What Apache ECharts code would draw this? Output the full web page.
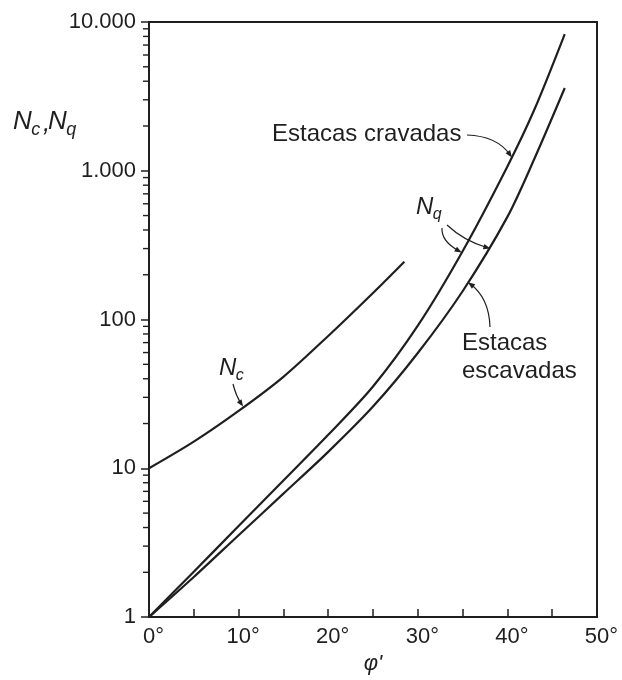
<!DOCTYPE html>
<html>
<head>
<meta charset="utf-8">
<script src="https://cdn.jsdelivr.net/npm/echarts@6/dist/echarts.min.js"></script>
<style>
  html, body { margin: 0; padding: 0; background: #ffffff; }
  #chart { width: 622px; height: 680px; }
</style>
</head>
<body>
<div id="chart"></div>
<script>
// Bearing capacity factors for piles versus friction angle (log scale)
const phiNq = [0, 5, 10, 15, 20, 25, 30, 35, 40, 43, 46.4];
const nqDriven = [1, 2.02, 4.09, 8.28, 16.8, 35.5, 91, 288, 1070, 2570, 8300];  // estacas cravadas
const nqBored = [1, 1.86, 3.55, 6.76, 12.9, 26, 59.6, 155, 490, 1200, 3600];    // estacas escavadas
const phiNc = [0, 5, 10, 15, 20, 25, 28.5];
const nc = [10, 15.1, 24.3, 41.2, 77.6, 151, 245];

const xTickLabels = ['0°', '10°', '20°', '30°', '40°', '50°'];
const yTickLabels = ['1', '10', '100', '1.000', '10.000'];
const yMinorTicks = [2, 3, 4, 5, 6, 7, 8, 9,
                     20, 30, 40, 50, 60, 70, 80, 90,
                     200, 300, 400, 500, 600, 700, 800, 900,
                     2000, 3000, 4000, 5000, 6000, 7000, 8000, 9000];

const INK = '#1f1f1f';
const FONT = '"Liberation Sans", Arial, Helvetica, sans-serif';

const chart = echarts.init(document.getElementById('chart'), null, { renderer: 'canvas' });

function pairs(xs, ys) { return xs.map((x, i) => [x, ys[i]]); }

const curveStyle = { color: INK, width: 2.2 };

chart.setOption({
  animation: false,
  backgroundColor: '#ffffff',
  grid: {
    left: 149, right: 25, top: 22, bottom: 56,
    show: true, borderColor: INK, borderWidth: 2, backgroundColor: 'transparent'
  },
  xAxis: {
    type: 'value', min: 0, max: 50, interval: 10,
    name: "φ'", nameLocation: 'middle', nameGap: 35,
    nameTextStyle: { fontFamily: FONT, fontStyle: 'italic', fontSize: 22, color: INK },
    axisLine: { show: true, lineStyle: { color: INK, width: 2 } },
    axisTick: { show: true, inside: true, length: 8, lineStyle: { color: INK, width: 1.5 } },
    minorTick: { show: true, splitNumber: 2, length: 8, lineStyle: { color: INK, width: 1.5 } },
    splitLine: { show: false },
    axisLabel: {
      fontFamily: FONT, fontSize: 22, color: INK, margin: 9,
      padding: [0, 0, 0, 9],
      formatter: v => xTickLabels[Math.round(v / 10)]
    }
  },
  yAxis: {
    type: 'log', logBase: 10, min: 1, max: 10000, splitNumber: 4,
    axisLine: { show: true, lineStyle: { color: INK, width: 2 } },
    axisTick: { show: true, inside: false, length: 8, lineStyle: { color: INK, width: 1.5 } },
    splitLine: { show: false },
    axisLabel: {
      fontFamily: FONT, fontSize: 22, color: INK, margin: 13,
      formatter: v => yTickLabels[Math.round(Math.log10(v))]
    }
  },
  series: [
    {
      name: 'Nq cravadas', type: 'line', data: pairs(phiNq, nqDriven),
      showSymbol: false, smooth: 0.3, lineStyle: curveStyle, silent: true
    },
    {
      name: 'Nq escavadas', type: 'line', data: pairs(phiNq, nqBored),
      showSymbol: false, smooth: 0.3, lineStyle: curveStyle, silent: true
    },
    {
      name: 'Nc', type: 'line', data: pairs(phiNc, nc),
      showSymbol: false, smooth: 0.3, lineStyle: curveStyle, silent: true
    },
    {
      // logarithmic minor ticks on the vertical axis
      name: 'minor ticks', type: 'custom', silent: true, clip: false,
      data: yMinorTicks.map(v => [0, v]),
      renderItem: function (params, api) {
        const p = api.coord([api.value(0), api.value(1)]);
        return {
          type: 'line',
          shape: { x1: p[0] - 6, y1: p[1], x2: p[0], y2: p[1] },
          style: { stroke: INK, lineWidth: 1.4 }
        };
      }
    }
  ]
});

// Leader arrows: tips sit on the curves (data coordinates), tails near the labels
const toPx = (phi, n) => chart.convertToPixel({ gridIndex: 0 }, [phi, n]);

function arrow(tail, ctrl, tip) {
  const dx = tip[0] - ctrl[0], dy = tip[1] - ctrl[1];
  const len = Math.hypot(dx, dy) || 1;
  const ux = dx / len, uy = dy / len;
  const nx = -uy, ny = ux;
  const hl = 7, hw = 2.8;
  return [
    {
      type: 'bezierCurve', silent: true,
      shape: { x1: tail[0], y1: tail[1], cpx1: ctrl[0], cpy1: ctrl[1], x2: tip[0] - ux * 3, y2: tip[1] - uy * 3 },
      style: { stroke: INK, lineWidth: 1.2, fill: null }
    },
    {
      type: 'polygon', silent: true,
      shape: { points: [
        [tip[0], tip[1]],
        [tip[0] - ux * hl + nx * hw, tip[1] - uy * hl + ny * hw],
        [tip[0] - ux * hl - nx * hw, tip[1] - uy * hl - ny * hw]
      ] },
      style: { fill: INK, stroke: null }
    }
  ];
}

function label(text, x, y, size, italic) {
  return {
    type: 'text', silent: true, x: x, y: y,
    style: {
      text: text, fill: INK,
      font: (italic ? 'italic ' : '') + size + 'px ' + FONT,
      align: 'left', verticalAlign: 'middle',
      textAlign: 'left', textVerticalAlign: 'middle'
    }
  };
}

// symbol N with a subscript letter
function nSub(sub, x, y, size) {
  const subSize = Math.round(size * 0.68);
  return [
    label('N', x, y, size, true),
    label(sub, x + size * 0.70, y + size * 0.30, subSize, true)
  ];
}

const tipDriven = toPx(40.5, 1230);
const tipNqLeft = toPx(34.9, 282);
const tipNqRight = toPx(38.1, 300);
const tipBored = toPx(35.6, 178);
const tipNc = toPx(10.5, 26);

const elements = [].concat(
  // vertical axis title
  nSub('c', 13, 122, 26),
  [label(',', 43, 124, 26, true)],
  nSub('q', 48, 122, 26),

  // driven piles
  [label('Estacas cravadas', 272, 134, 24, false)],
  arrow([467, 135], [497, 136], tipDriven),

  // Nq tag with its two leaders
  nSub('q', 416, 207, 24),
  arrow([442, 228], [441, 241], tipNqLeft),
  arrow([447, 225], [464, 241], tipNqRight),

  // bored piles
  [label('Estacas', 462, 343, 24, false), label('escavadas', 462, 371, 24, false)],
  arrow([490, 327], [489, 298], tipBored),

  // Nc tag
  nSub('c', 219, 368, 24),
  arrow([233, 384], [236, 396], tipNc)
);

chart.setOption({ graphic: { elements: elements } });
</script>
</body>
</html>
